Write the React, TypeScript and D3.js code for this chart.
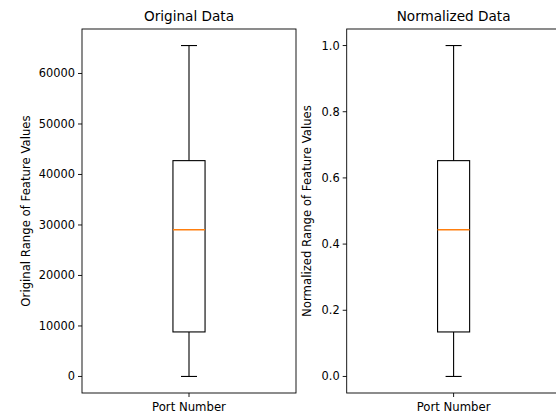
import React from "react";
import * as d3 from "d3";

const panelTitles = ["Original Data", "Normalized Data"];
const yLabels = ["Original Range of Feature Values", "Normalized Range of Feature Values"];
const xCategory = "Port Number";
// [min whisker, Q1, median, Q3, max whisker]
const originalStats = [0, 8817, 29053, 42742, 65535];
const normalizedStats = [0, 0.1345, 0.4433, 0.6522, 1.0];
const originalTicks = [0, 10000, 20000, 30000, 40000, 50000, 60000];
const normalizedTicks = [0, 0.2, 0.4, 0.6, 0.8, 1.0];

const W = 556;
const H = 417;
const FONT = "DejaVu Sans, sans-serif";

function Panel({ x0, x1, stats, ticks, fmt, title, ylabel, ylabelX }: any) {
  const top = 29;
  const bottom = 393;
  const lo = stats[0];
  const hi = stats[4];
  const pad = (hi - lo) * 0.05;
  const y = d3.scaleLinear().domain([lo - pad, hi + pad]).range([bottom, top]);
  const x = d3.scaleLinear().domain([0.5, 1.5]).range([x0, x1]);
  const [wLo, q1, med, q3, wHi] = stats;
  const bx0 = x(1 - 0.075);
  const bx1 = x(1 + 0.075);
  const cx0 = x(1 - 0.0375);
  const cx1 = x(1 + 0.0375);
  const cx = x(1);
  const stroke = "#000";
  return (
    <g>
      <line x1={cx} x2={cx} y1={y(q3)} y2={y(wHi)} stroke={stroke} strokeWidth={1.1} />
      <line x1={cx} x2={cx} y1={y(q1)} y2={y(wLo)} stroke={stroke} strokeWidth={1.1} />
      <line x1={cx0} x2={cx1} y1={y(wHi)} y2={y(wHi)} stroke={stroke} strokeWidth={1.1} />
      <line x1={cx0} x2={cx1} y1={y(wLo)} y2={y(wLo)} stroke={stroke} strokeWidth={1.1} />
      <rect x={bx0} y={y(q3)} width={bx1 - bx0} height={y(q1) - y(q3)} fill="none" stroke={stroke} strokeWidth={1.1} />
      <line x1={bx0} x2={bx1} y1={y(med)} y2={y(med)} stroke="#ff7f0e" strokeWidth={1.3} />
      <rect x={x0} y={top} width={x1 - x0} height={bottom - top} fill="none" stroke="#000" strokeWidth={0.9} />
      {ticks.map((t: number) => (
        <g key={t}>
          <line x1={x0 - 4} x2={x0} y1={y(t)} y2={y(t)} stroke="#000" strokeWidth={0.9} />
          <text x={x0 - 7} y={y(t)} dy="0.35em" textAnchor="end" fontSize={11.4} fontFamily={FONT} fill="#000">
            {fmt(t)}
          </text>
        </g>
      ))}
      <line x1={cx} x2={cx} y1={bottom} y2={bottom + 4} stroke="#000" strokeWidth={0.9} />
      <text x={cx} y={411} textAnchor="middle" fontSize={11.7} fontFamily={FONT} fill="#000">
        {xCategory}
      </text>
      <text x={(x0 + x1) / 2} y={21} textAnchor="middle" fontSize={13.6} fontFamily={FONT} fill="#000">
        {title}
      </text>
      <text
        transform={`translate(${ylabelX},${(top + bottom) / 2}) rotate(-90)`}
        textAnchor="middle"
        fontSize={11.7}
        fontFamily={FONT}
        fill="#000"
      >
        {ylabel}
      </text>
    </g>
  );
}

export default function App() {
  return (
    <svg
      width={W}
      height={H}
      style={{ position: "absolute", left: 0, top: 0, background: "#fff" }}
    >
      <rect x={0} y={0} width={W} height={H} fill="#fff" />
      <Panel
        x0={82}
        x1={296}
        stats={originalStats}
        ticks={originalTicks}
        fmt={(v: number) => String(v)}
        title={panelTitles[0]}
        ylabel={yLabels[0]}
        ylabelX={30}
      />
      <Panel
        x0={346.7}
        x1={560.5}
        stats={normalizedStats}
        ticks={normalizedTicks}
        fmt={d3.format(".1f")}
        title={panelTitles[1]}
        ylabel={yLabels[1]}
        ylabelX={310.5}
      />
    </svg>
  );
}
